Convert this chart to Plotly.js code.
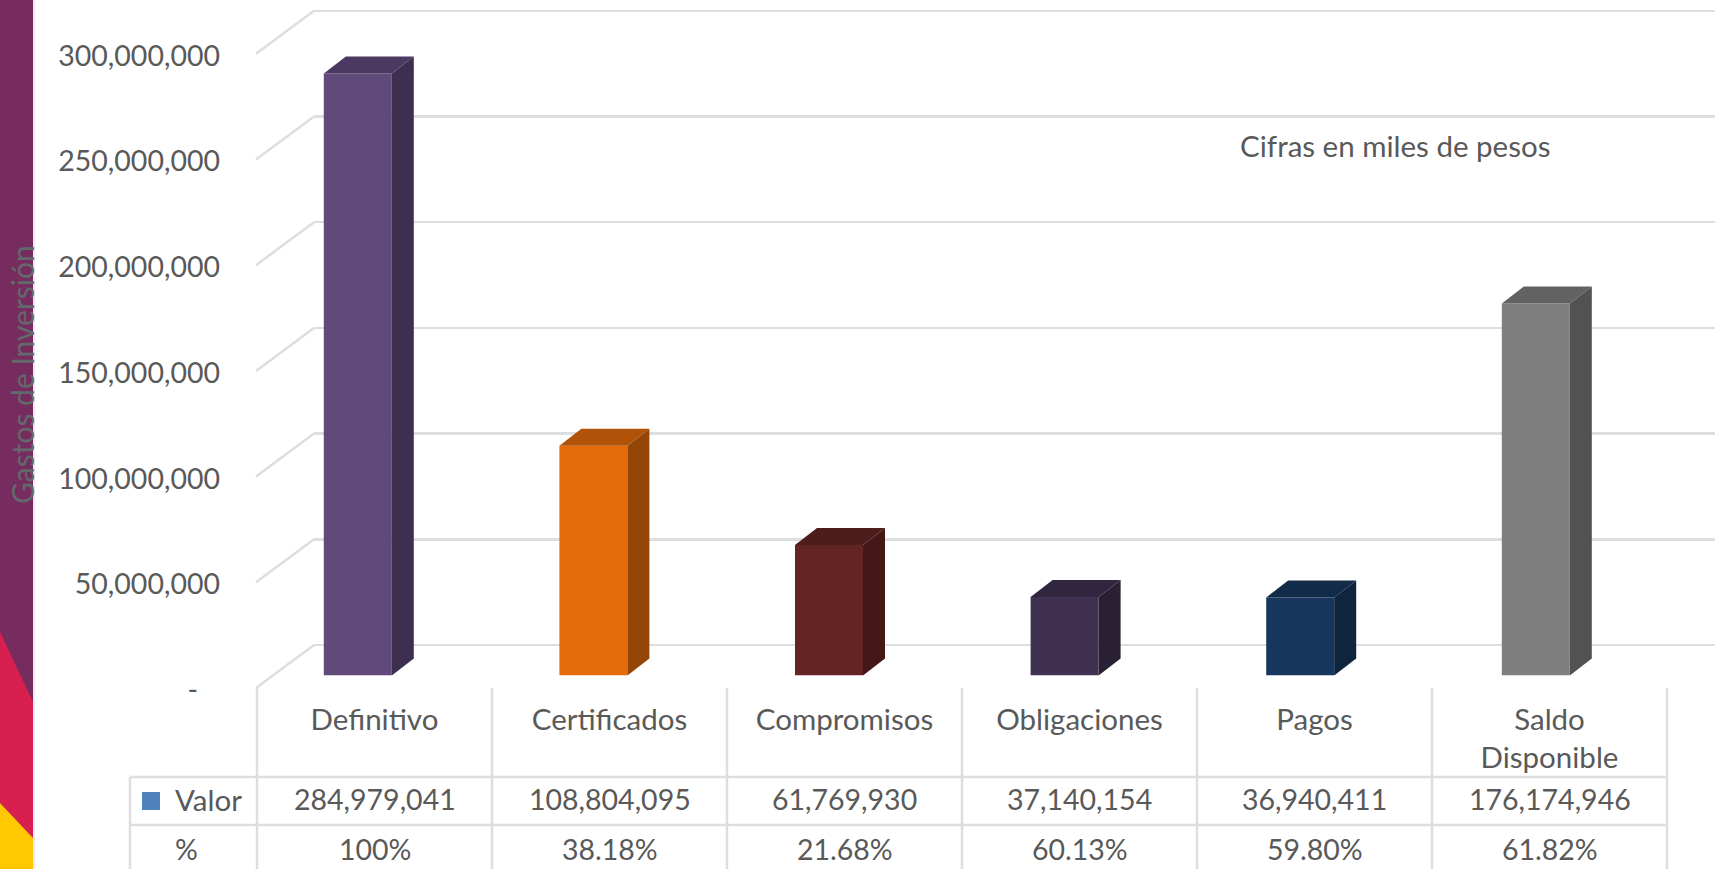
<!DOCTYPE html>
<html><head><meta charset="utf-8">
<script src="https://cdn.plot.ly/plotly-3.0.1.min.js"></script>
<style>html,body{margin:0;padding:0;background:#fff;overflow:hidden} text{font-variant-ligatures:none}</style>
</head><body><div id="chart" style="width:1715px;height:869px"></div>
<script>
const categories = ["Definitivo","Certificados","Compromisos","Obligaciones","Pagos","Saldo Disponible"];
const categoryLabels = ["Definitivo","Certificados","Compromisos","Obligaciones","Pagos","Saldo<br>Disponible"];
const valores = [284979041,108804095,61769930,37140154,36940411,176174946];
const valorLabels = ["284,979,041","108,804,095","61,769,930","37,140,154","36,940,411","176,174,946"];
const porcentajes = ["100%","38.18%","21.68%","60.13%","59.80%","61.82%"];
const yTicks = [0,50000000,100000000,150000000,200000000,250000000,300000000];
const yTickLabels = ["-\u00a0\u00a0\u00a0","50,000,000","100,000,000","150,000,000","200,000,000","250,000,000","300,000,000"];
const frontColors = ["#604a7b","#e46c0a","#632523","#403152","#17375e","#7f7f7f"];
const sideColors  = ["#3e2f50","#934607","#431816","#292034","#0f243d","#525252"];
const topColors   = ["#4a3960","#b05308","#4d1c1b","#31263f","#122b49","#626262"];

const W = 1715, H = 869, FS = 28.5, FL = 29.5, TXT = "#595959", LINE = "#dedede", FONT = "Lato, Carlito, sans-serif";
const pxPerUnit = 105.6 / 50000000;
const gridPerUnit = 105.7 / 50000000;
const colW = 235, barColW = 235.6;
const barWidth = 68 / barColW;
const depthX = 22 / barColW, depthY = 17 / pxPerUnit;
const dom = (a, b) => [a / W, b / W];
const vdom = bottomPx => [1 - bottomPx / H, 1];
const wallBase = 645, frontBase = 688, barBase = 675.5;

const traces = [];
traces.push({type:"scatter",mode:"none",x:[0,5],y:[0,0],xaxis:"x",yaxis:"y",hoverinfo:"skip",showlegend:false});
traces.push({type:"scatter",mode:"none",x:[0,5],y:[0,0],xaxis:"x2",yaxis:"y2",hoverinfo:"skip",showlegend:false});
traces.push({type:"bar",x:categories.map((c,i)=>i),y:valores,width:barWidth,xaxis:"x3",yaxis:"y3",
  marker:{color:frontColors,line:{width:0}},name:"Valor",showlegend:false,hovertext:categories,hoverinfo:"text+y"});
valores.forEach((v,i)=>{
  const l=i-barWidth/2, r=i+barWidth/2;
  traces.push({type:"scatter",mode:"lines",xaxis:"x3",yaxis:"y3",hoverinfo:"skip",showlegend:false,
    x:[r,r+depthX,r+depthX,r,r],y:[0,depthY,v+depthY,v,0],fill:"toself",fillcolor:sideColors[i],line:{width:0,color:sideColors[i]}});
  traces.push({type:"scatter",mode:"lines",xaxis:"x3",yaxis:"y3",hoverinfo:"skip",showlegend:false,
    x:[l,l+depthX,r+depthX,r,l],y:[v,v+depthY,v+depthY,v,v],fill:"toself",fillcolor:topColors[i],line:{width:0,color:topColors[i]}});
});

const shapes = [];
const ln = (x0,y0,x1,y1)=>({type:"line",xref:"paper",yref:"paper",x0:x0/W,x1:x1/W,y0:1-y0/H,y1:1-y1/H,line:{color:LINE,width:2.5},layer:"below"});
const poly = (pts,color)=>({type:"path",xref:"paper",yref:"paper",layer:"below",line:{width:0},fillcolor:color,
  path:"M"+pts.map(p=>(p[0]/W)+","+(1-p[1]/H)).join("L")+"Z"});
shapes.push(poly([[0,0],[33,0],[33,869],[0,869]],"#772c60"));
shapes.push(poly([[0,632],[33,702],[33,838],[0,803]],"#d81f50"));
shapes.push(poly([[0,803],[33,838],[33,869],[0,869]],"#ffc800"));
shapes.push(ln(34,0,34,869)); shapes[shapes.length-1].line={color:"#ecd0e6",width:1};
yTicks.forEach(t=>{
  shapes.push({type:"line",xref:"paper",yref:"y2",x0:256/W,x1:314/W,y0:t,y1:t+43/gridPerUnit,line:{color:LINE,width:2.5},layer:"below"});
});
for(let i=0;i<=6;i++){
  const x=257+i*colW;
  shapes.push(ln(x,688,x,869));
}
shapes.push(ln(130,777,130,869));
shapes.push(ln(130,777,1667,777));
shapes.push(ln(130,825,1667,825));
shapes.push(poly([[142,792],[160,792],[160,810],[142,810]],"#4f81bd"));

const ann = [];
const txt=(x,xref,y,t,extra)=>Object.assign({x,xref,y:1-y/H,yref:"paper",text:t,showarrow:false,
  font:{family:FONT,size:FS,color:TXT},xanchor:"center",yanchor:"middle"},extra||{});
categories.forEach((c,i)=>{
  ann.push(txt(i,"x2",799,valorLabels[i]));
  ann.push(txt(i,"x2",849,porcentajes[i]));
});
ann.push(txt(173/W,"paper",799,"Valor",{xanchor:"left",font:{family:FONT,size:FL,color:TXT}}));
ann.push(txt(173/W,"paper",849,"%",{xanchor:"left"}));
ann.push(txt(1395/W,"paper",145,"Cifras en miles de pesos",{font:{family:FONT,size:FL,color:TXT}}));
ann.push(txt(22/W,"paper",375,"Gastos de Inversión",{textangle:-90,font:{family:FONT,size:30,color:"#62696a"}}));

const hidden={showgrid:false,zeroline:false,showline:false,showticklabels:false,ticks:"",fixedrange:true};
const layout={
  width:W,height:H,margin:{l:0,r:0,t:0,b:0,pad:0},autosize:false,
  paper_bgcolor:"#ffffff",plot_bgcolor:"rgba(0,0,0,0)",showlegend:false,
  font:{family:FONT,size:FS,color:TXT},
  xaxis:Object.assign({},hidden,{domain:dom(314,W),range:[0,1],anchor:"y"}),
  yaxis:{domain:vdom(wallBase),range:[0,wallBase/gridPerUnit],anchor:"x",showgrid:true,gridcolor:LINE,gridwidth:2.5,
    zeroline:true,zerolinecolor:LINE,zerolinewidth:2.5,showline:false,tickmode:"array",tickvals:yTicks,showticklabels:false,ticks:"",fixedrange:true},
  xaxis2:{domain:dom(257,1667),range:[-0.5,5.5],anchor:"y2",tickmode:"array",tickvals:categories.map((c,i)=>i),ticktext:categoryLabels,
    showgrid:false,zeroline:false,showline:false,ticks:"",ticklabelstandoff:11,automargin:false,fixedrange:true,tickfont:{family:FONT,size:FL,color:TXT}},
  yaxis2:{domain:vdom(frontBase),range:[0,frontBase/gridPerUnit],anchor:"x2",tickmode:"array",tickvals:yTicks,ticktext:yTickLabels,
    showgrid:false,zeroline:false,showline:false,ticks:"",ticklabelstandoff:36,ticklabelshift:2,automargin:false,fixedrange:true,tickfont:{family:FONT,size:FS,color:TXT}},
  xaxis3:Object.assign({},hidden,{domain:dom(240,240+6*barColW),range:[-0.5,5.5],anchor:"y3"}),
  yaxis3:Object.assign({},hidden,{domain:vdom(barBase),range:[0,barBase/pxPerUnit],anchor:"x3"}),
  shapes,annotations:ann
};
Plotly.newPlot("chart",traces,layout,{displayModeBar:false,staticPlot:true});
</script></body></html>
